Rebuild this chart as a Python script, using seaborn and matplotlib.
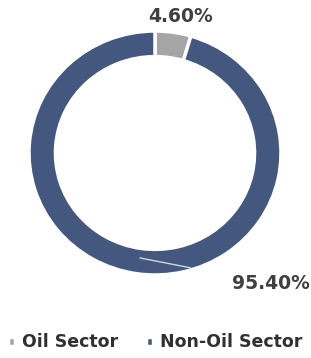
import matplotlib
matplotlib.use("Agg")
import matplotlib.pyplot as plt
import seaborn as sns

# data
sectors = ["Oil Sector", "Non-Oil Sector"]
shares = [4.60, 95.40]
colors = ["#a5a5a5", "#44587f"]

sns.set_theme(style="white")
plt.rcParams['font.family'] = ['DejaVu Sans']

fig = plt.figure(figsize=(3.11, 3.58), dpi=100)
# donut centered around (155, 153) px, slightly wider than tall like the original
ax = fig.add_axes([29 / 311, 83 / 358, 252 / 311, 244 / 358])

wedges, _ = ax.pie(shares, colors=colors, startangle=90, counterclock=False,
                   radius=1.0, wedgeprops=dict(width=0.21, edgecolor="white", linewidth=2.5))
ax.set_xlim(-1, 1)
ax.set_ylim(-1, 1)
ax.set_aspect("auto")
ax.axis("off")

# value labels
ax.text(0.2, 1.12, f"{shares[0]:.2f}%", ha="center", va="center",
        fontsize=13.5, fontweight="bold", color="#404040", clip_on=False)
ax.annotate(f"{shares[1]:.2f}%", xy=(-0.12, -0.86), xytext=(0.92, -1.07),
            ha="center", va="center", fontsize=13.5, fontweight="bold", color="#404040",
            annotation_clip=False,
            arrowprops=dict(arrowstyle="-", color="#d0d6e0", lw=1, shrinkA=28, shrinkB=0))

fig.legend(wedges, sectors, loc="lower center", bbox_to_anchor=(0.5, -0.025), ncol=2,
           frameon=False, handlelength=0.4, handleheight=0.4, handletextpad=0.4,
           columnspacing=1.6, prop=dict(weight="bold", size=12.5), labelcolor="#303030")

fig.savefig("out.png", dpi=100)
